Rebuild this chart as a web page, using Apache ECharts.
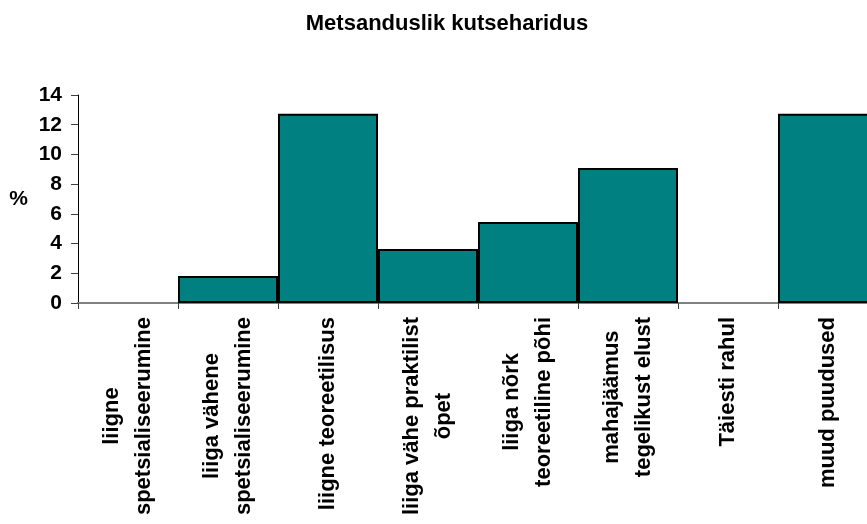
<!DOCTYPE html>
<html>
<head>
<meta charset="utf-8">
<script src="https://cdn.jsdelivr.net/npm/echarts@6/dist/echarts.min.js"></script>
<style>
  html, body { margin: 0; padding: 0; background: #fff; }
  #chart { width: 867px; height: 524px; }
</style>
</head>
<body>
<div id="chart"></div>
<script>
// kategooriad ja väärtused (%)
const categories = [
  'liigne\nspetsialiseerumine',
  'liiga vähene\nspetsialiseerumine',
  'liigne teoreetilisus',
  'liiga vähe praktilist\nõpet',
  'liiga nõrk\nteoreetiline põhi',
  'mahajäämus\ntegelikust elust',
  'Täiesti rahul',
  'muud puudused'
]
const values = [0, 1.82, 12.73, 3.64, 5.45, 9.09, 0, 12.73]
const yTicks = [0, 2, 4, 6, 8, 10, 12, 14]

const font = 'Liberation Sans, Arial, sans-serif'
const myChart = echarts.init(document.getElementById('chart'))
myChart.setOption({
  animation: false,
  title: {
    text: 'Metsanduslik kutseharidus',
    left: 442,
    top: 8,
    textAlign: 'center',
    textStyle: { fontFamily: font, fontWeight: 'bold', fontSize: 22, color: '#000' }
  },
  // joonise ala ulatub paremalt üle serva
  grid: { left: 78, width: 800, top: 95, height: 208, outerBoundsMode: 'none', containLabel: false },
  xAxis: {
    type: 'category',
    data: categories,
    axisLine: { lineStyle: { color: '#808080', width: 2 } },
    axisTick: { show: true, length: 6, lineStyle: { color: '#404040' } },
    axisLabel: {
      interval: 0,
      rotate: 90,
      margin: 14,
      formatter: function (v) {
        // iga rida eraldi keskele
        return v.split('\n').map(function (s) { return '{c|' + s + '}' }).join('\n')
      },
      rich: {
        c: { align: 'center', fontFamily: font, fontWeight: 'bold', fontSize: 22, lineHeight: 32, color: '#000' }
      }
    }
  },
  yAxis: {
    type: 'value',
    min: yTicks[0],
    max: yTicks[yTicks.length - 1],
    interval: 2,
    name: '%',
    nameLocation: 'middle',
    nameRotate: 0,
    nameGap: 50,
    nameTextStyle: { fontFamily: font, fontWeight: 'bold', fontSize: 21, color: '#000' },
    splitLine: { show: false },
    axisLine: { show: true, lineStyle: { color: '#000', width: 1 } },
    axisTick: { show: true, length: 7, lineStyle: { color: '#404040' } },
    axisLabel: { margin: 16, fontFamily: font, fontWeight: 'bold', fontSize: 21, color: '#000' }
  },
  series: [
    {
      type: 'bar',
      barWidth: '100%',
      barCategoryGap: 0,
      data: values.map(function (v) { return v === 0 ? '-' : v }),
      itemStyle: { color: '#008080', borderColor: '#000', borderWidth: 2 }
    }
  ]
})
</script>
</body>
</html>
